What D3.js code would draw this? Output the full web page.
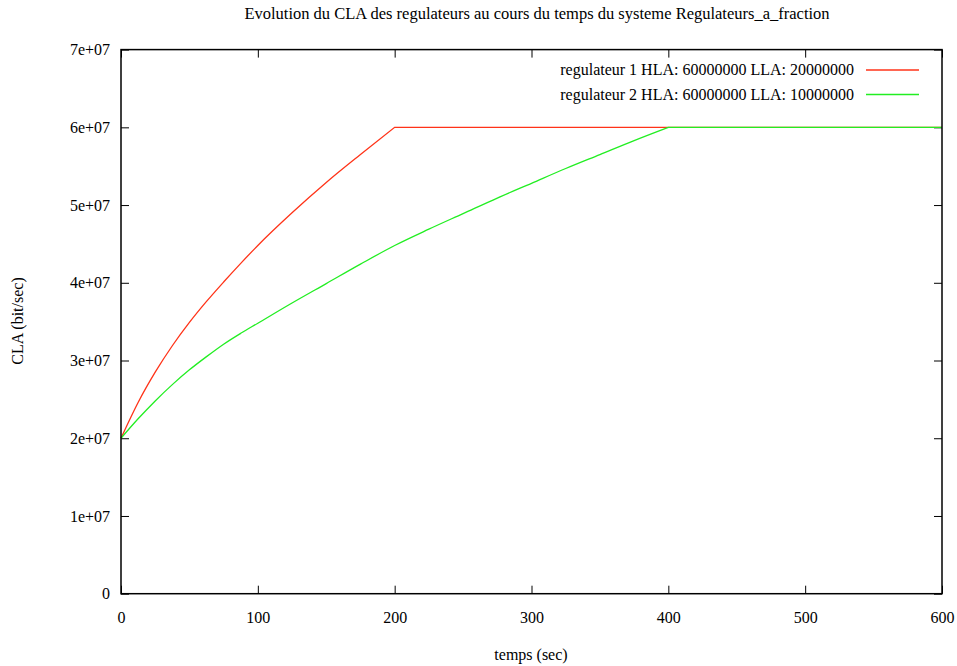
<!DOCTYPE html>
<html><head><meta charset="utf-8">
<script src="https://cdn.jsdelivr.net/npm/d3@7"></script>
<style>body{margin:0;background:#fff}svg{display:block}text{font-family:"Liberation Serif","DejaVu Serif",serif;font-size:16px;fill:#000}</style>
</head><body><svg id="c" width="957" height="666"></svg>
<script>
const title = "Evolution du CLA des regulateurs au cours du temps du systeme Regulateurs_a_fraction";
const xLabel = "temps (sec)";
const yLabel = "CLA (bit/sec)";
const xTicks = [0,100,200,300,400,500,600];
const yTicks = [0,1e7,2e7,3e7,4e7,5e7,6e7,7e7];
const yTickLabels = ["0","1e+07","2e+07","3e+07","4e+07","5e+07","6e+07","7e+07"];
const seriesNames = ["regulateur 1 HLA: 60000000 LLA: 20000000","regulateur 2 HLA: 60000000 LLA: 10000000"];
const seriesColors = ["#ff3318","#22ee22"];
// rising part of each series (time in sec, CLA in bit/sec)
const t1 = [0,12.5,25,37.5,50,62.5,75,87.5,100,125,150,175,200];
const v1 = [2.0e7,2.46e7,2.85e7,3.19e7,3.49e7,3.76e7,4.01e7,4.25e7,4.48e7,4.90e7,5.29e7,5.65e7,6.0e7];
const t2 = [0,12.5,25,37.5,50,62.5,75,87.5,100,125,150,175,200,225,250,275,300,325,350,375,400];
const v2 = [2.0e7,2.25e7,2.48e7,2.69e7,2.88e7,3.05e7,3.21e7,3.35e7,3.48e7,3.74e7,3.99e7,4.24e7,4.48e7,4.69e7,4.89e7,5.09e7,5.28e7,5.47e7,5.65e7,5.83e7,6.0e7];
// plateau (clamped at HLA) until the end of the run
const tEnd = 600;
const plateau = 6.0e7;

const svg = d3.select("#c");
const L=121, R=942, T=49.6, B=593.7;
const x = d3.scaleLinear().domain([0,600]).range([L,R]);
const y = d3.scaleLinear().domain([0,7e7]).range([B,T]);
const tl = 8;

svg.append("text").attr("x",537).attr("y",19).attr("text-anchor","middle").style("font-size","16.5px").text(title);
svg.append("text").attr("x",531).attr("y",660).attr("text-anchor","middle").text(xLabel);
svg.append("text").attr("transform","translate(23,321) rotate(-90)").attr("text-anchor","middle").text(yLabel);

const gx = svg.append("g").attr("transform",`translate(0,${B})`)
  .call(d3.axisBottom(x).tickValues(xTicks).tickSize(-tl).tickPadding(18).tickFormat(d3.format("d")));
const gxt = svg.append("g").attr("transform",`translate(0,${T})`)
  .call(d3.axisTop(x).tickValues(xTicks).tickSize(-tl).tickFormat(""));
const gy = svg.append("g").attr("transform",`translate(${L},0)`)
  .call(d3.axisLeft(y).tickValues(yTicks).tickSize(-tl).tickPadding(11).tickFormat((d,i)=>yTickLabels[i]));
const gyr = svg.append("g").attr("transform",`translate(${R},0)`)
  .call(d3.axisRight(y).tickValues(yTicks).tickSize(-tl).tickFormat(""));
[gx,gxt,gy,gyr].forEach(g=>{
  g.select(".domain").remove();
  g.selectAll("line").attr("stroke","#000").attr("stroke-width",1);
  g.selectAll("text").style("font-family",'"Liberation Serif",serif').style("font-size","16px").attr("fill","#000");
});
gy.selectAll("text").attr("dy","0.32em");

const rise = d3.line().x(d=>x(d[0])).y(d=>y(d[1])).curve(d3.curveMonotoneX);
const flat = d3.line().x(d=>x(d[0])).y(d=>y(d[1]));
const series = [[t1,v1],[t2,v2]];
series.forEach(([t,v],i)=>{
  const pts = d3.zip(t,v);
  const last = pts[pts.length-1];
  svg.append("path").attr("d", rise(pts) + flat([last,[tEnd,plateau]]).replace(/^M/,"L"))
    .attr("fill","none").attr("stroke",seriesColors[i]).attr("stroke-width",1.3);
});

svg.append("rect").attr("x",L).attr("y",T).attr("width",R-L).attr("height",B-T)
  .attr("fill","none").attr("stroke","#000").attr("stroke-width",1.5);

const legY=[70,94.5];
seriesNames.forEach((n,i)=>{
  svg.append("text").attr("x",854).attr("y",legY[i]).attr("dy","0.32em").attr("text-anchor","end").text(n);
  svg.append("line").attr("x1",866).attr("x2",919).attr("y1",legY[i]).attr("y2",legY[i])
    .attr("stroke",seriesColors[i]).attr("stroke-width",1.3);
});
</script></body></html>
